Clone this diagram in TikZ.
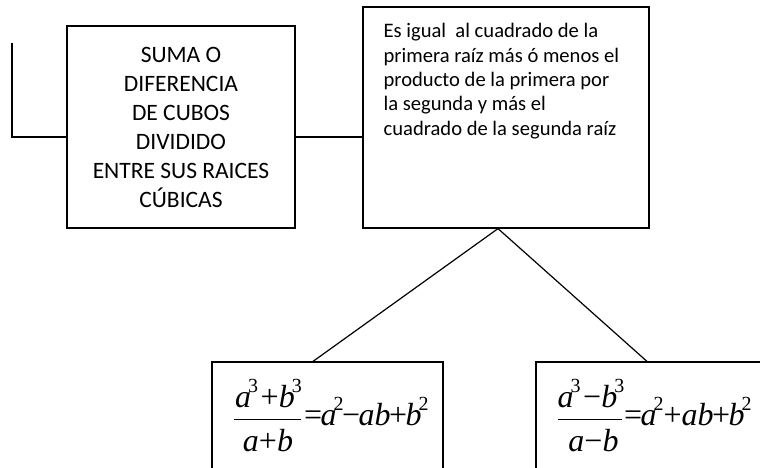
\documentclass[tikz,border=0pt]{standalone}
\usepackage{fontspec}
\setmainfont{Carlito}
\newfontfamily\tms{Liberation Serif}
\newcommand\sv[2]{{\itshape #1}\kern-3pt\raisebox{0.45em}{\fontsize{20}{20}\selectfont\upshape #2}}
\newcommand\op[1]{\kern-1.5pt#1\kern-1.5pt}
\begin{document}
\begin{tikzpicture}[x=1pt,y=-1pt,line width=1.2pt,
  boxstyle/.style={draw,rectangle,inner sep=0pt},
  lbl/.style={font=\fontsize{23.5}{29}\selectfont,align=center},
  rtxt/.style={font=\fontsize{20.6}{24.3}\selectfont,align=left,anchor=north west,inner sep=0pt},
  eqs/.style={font=\fontsize{32}{34}\selectfont\tms,inner sep=0pt,anchor=base},
  eqrest/.style={eqs,anchor=base west},
  fracbar/.style={line width=1pt}]
\useasboundingbox (0,0) rectangle (760,467);
\clip (0,0) rectangle (760,467);
\node[boxstyle,minimum width=228pt,minimum height=202pt] (lb) at (181,127) {};
\node[lbl] (lbt) at (181,127) {SUMA O\\DIFERENCIA\\DE CUBOS\\DIVIDIDO\\ENTRE SUS RAICES\\CÚBICAS};
\node[boxstyle,minimum width=286pt,minimum height=221pt] (rb) at (506,117.5) {};
\node[rtxt] (rbt) at (383,23) {Es igual\ \ al cuadrado de la\\primera raíz más ó menos el\\producto de la primera por\\la segunda y más el\\cuadrado de la segunda raíz};
\node[boxstyle,minimum width=231pt,minimum height=140pt] (bl) at (327.5,432) {};
\node[boxstyle,minimum width=300pt,minimum height=140pt] (br) at (686,432) {};
% left formula
\node[eqs] (numl) at (268.5,407) {\sv{a}{3}\kern2.5pt+\sv{b}{3}};
\node[eqs] (denl) at (268,451) {{\itshape a}+{\itshape b}};
\draw[fracbar] (234,419) -- (301,419);
\node[eqrest] (restl) at (305,425) {\op{=}\sv{a}{2}\op{−}{\itshape ab}\op{+}\sv{b}{2}};
% right formula
\node[eqs] (numr) at (591,407) {\sv{a}{3}\kern2.5pt−\sv{b}{3}};
\node[eqs] (denr) at (593.5,451) {{\itshape a}−{\itshape b}};
\draw[fracbar] (558,419) -- (622,419);
\node[eqrest] (restr) at (625,425) {\op{=}\sv{a}{2}+{\itshape ab}\op{+}\sv{b}{2}};
% connectors
\coordinate (stub) at (12,43);
\draw (stub) |- ([yshift=-10pt]lb.west);
\draw ([yshift=-10pt]lb.east) -- ([yshift=-10pt]lb.east -| rb.west);
\draw ([xshift=-8pt]rb.south) -- ([xshift=-14.5pt]bl.north);
\draw ([xshift=-8pt]rb.south) -- (br.north -| 647,0);
\end{tikzpicture}
\end{document}
